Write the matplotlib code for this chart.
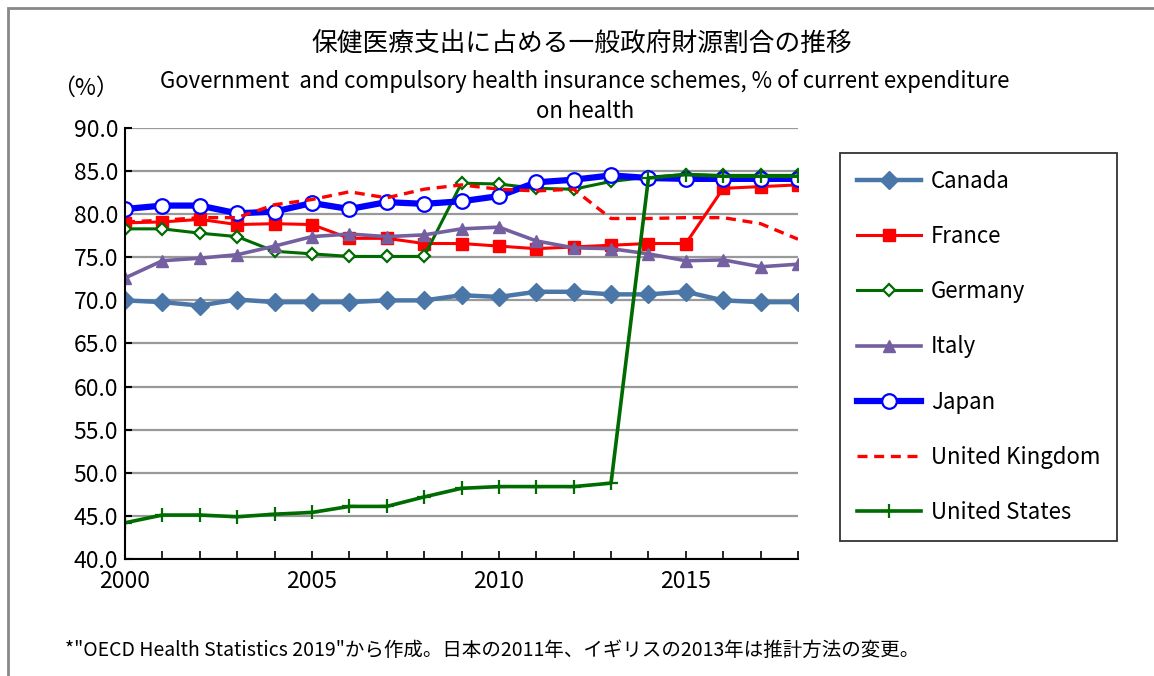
import matplotlib
matplotlib.use('Agg')
import matplotlib.pyplot as plt
from matplotlib.patches import Rectangle

plt.rcParams['font.family'] = ['Noto Sans CJK JP', 'DejaVu Sans']

# 年
years = list(range(2000, 2019))

# 各国の値 (%)
canada = [70.0, 69.8, 69.4, 70.1, 69.8, 69.8, 69.8, 70.0, 70.0, 70.6,
          70.4, 71.0, 71.0, 70.7, 70.7, 71.0, 70.0, 69.8, 69.8]
france = [79.0, 79.1, 79.4, 78.8, 78.9, 78.8, 77.2, 77.2, 76.6, 76.6,
          76.3, 76.0, 76.2, 76.4, 76.6, 76.6, 83.0, 83.2, 83.4]
germany = [78.3, 78.3, 77.8, 77.4, 75.7, 75.4, 75.1, 75.1, 75.1, 83.6,
           83.5, 83.0, 82.9, 83.8, 84.3, 84.6, 84.5, 84.5, 84.5]
italy = [72.6, 74.6, 74.9, 75.3, 76.3, 77.4, 77.7, 77.4, 77.6, 78.3,
         78.5, 76.9, 76.1, 76.0, 75.4, 74.6, 74.7, 73.9, 74.2]
japan = [80.6, 81.0, 81.0, 80.1, 80.3, 81.3, 80.6, 81.4, 81.2, 81.5,
         82.1, 83.7, 84.0, 84.5, 84.2, 84.1, 84.1, 84.1, 84.1]
uk = [79.1, 79.3, 79.6, 79.6, 81.1, 81.7, 82.6, 81.9, 82.9, 83.4,
      82.9, 82.7, 82.9, 79.5, 79.5, 79.6, 79.6, 78.9, 77.1]
us = [44.2, 45.1, 45.1, 44.9, 45.2, 45.4, 46.1, 46.1, 47.2, 48.2,
      48.4, 48.4, 48.4, 48.8, 84.2, 84.6, 84.4, 84.4, 84.4]

fig = plt.figure(figsize=(11.54, 6.76), dpi=100)

# 外枠
fig.patches.append(Rectangle((8 / 1154, -0.1), 1.2, 1 - 8 / 676 + 0.1,
                             transform=fig.transFigure, fill=False,
                             edgecolor='#888888', linewidth=2))

ax = fig.add_axes([125 / 1154, 1 - 559 / 676, 673 / 1154, 431 / 676])

ax.plot(years, canada, color='#4A76A8', lw=3.2, marker='D', ms=9,
        label='Canada')
ax.plot(years, france, color='#FF0000', lw=2.2, marker='s', ms=9,
        label='France')
ax.plot(years, germany, color='#006B00', lw=2.2, marker='D', ms=6.5,
        markerfacecolor='white', markeredgecolor='#006B00', mew=1.6,
        label='Germany')
ax.plot(years, italy, color='#7460A0', lw=2.6, marker='^', ms=9,
        label='Italy')
ax.plot(years, japan, color='#0000FF', lw=4.5, marker='o', ms=10.5,
        markerfacecolor='white', markeredgecolor='#0000FF', mew=1.6,
        label='Japan')
ax.plot(years, uk, color='#FF0000', lw=2.4, ls=(0, (3, 2)),
        label='United Kingdom')
ax.plot(years, us, color='#006B00', lw=2.6, marker='+', ms=10, mew=1.6,
        label='United States')

ax.set_xlim(2000, 2018)
ax.set_ylim(40, 90)
ax.set_yticks(range(40, 91, 5))
ax.set_yticklabels([f'{v:.1f}' for v in range(40, 91, 5)])
ax.set_xticks(range(2000, 2019), minor=True)
ax.set_xticks([2000, 2005, 2010, 2015])
ax.tick_params(axis='y', direction='in', length=5, width=1.5, labelsize=16.5, pad=5)
ax.tick_params(axis='x', which='both', direction='in', length=6, width=1.2,
               labelsize=16.5, pad=8)
ax.grid(axis='y', color='#999999', lw=1.6)
ax.set_axisbelow(True)
for s in ['top', 'right']:
    ax.spines[s].set_visible(False)
ax.spines['left'].set_linewidth(1.5)
ax.spines['bottom'].set_linewidth(1.5)

leg = ax.legend(loc='upper left', bbox_to_anchor=(840 / 1154, 1 - 153 / 676),
                bbox_transform=fig.transFigure, fontsize=16, frameon=True,
                fancybox=False, edgecolor='black', handlelength=2.9,
                labelspacing=1.45, borderpad=0.75, handletextpad=0.45,
                borderaxespad=0)
leg.get_frame().set_linewidth(1.3)

fig.text(582 / 1154, 1 - 45 / 676, '保健医療支出に占める一般政府財源割合の推移',
         ha='center', va='center', fontsize=18.5)
fig.text(585 / 1154, 1 - 96 / 676,
         'Government  and compulsory health insurance schemes, % of current expenditure\non health',
         ha='center', va='center', fontsize=16, linespacing=1.4)
fig.text(85 / 1154, 1 - 88 / 676, '（%）', ha='center', va='center', fontsize=16.5)
fig.text(65 / 1154, 1 - 650 / 676,
         '*"OECD Health Statistics 2019"から作成。日本の2011年、イギリスの2013年は推計方法の変更。',
         ha='left', va='center', fontsize=14)

fig.savefig('out.png', dpi=100)
